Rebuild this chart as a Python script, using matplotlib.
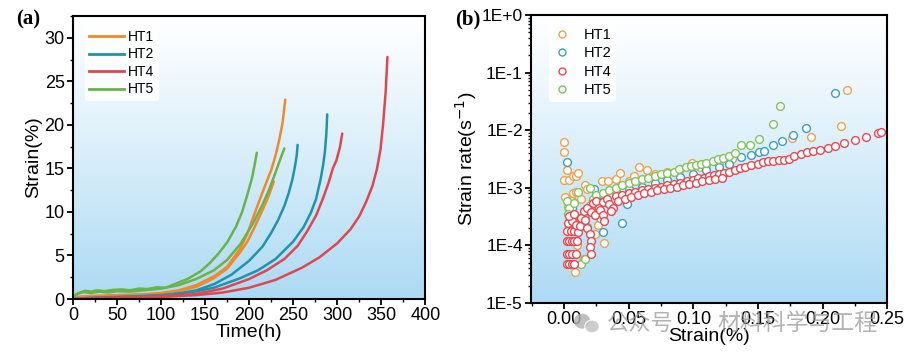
import numpy as np
import matplotlib
matplotlib.use("Agg")
import matplotlib.pyplot as plt
from matplotlib.ticker import MultipleLocator, FixedLocator, LogLocator, NullFormatter, FuncFormatter
from matplotlib.lines import Line2D
from matplotlib.patches import Ellipse

plt.rcParams['font.family'] = ['Liberation Sans', 'DejaVu Sans']

# ---------------- Panel (a) data: creep curves ----------------
ht1a_t = [0, 5, 20, 50, 80, 100, 120, 140, 160, 175, 190, 198, 205, 212, 218, 225, 230, 234, 238, 241]
ht1a_s = [0, 0.2, 0.3, 0.4, 0.5, 0.7, 1.0, 1.6, 2.6, 3.7, 5.8, 7.5, 9.5, 11.4, 13.0, 14.8, 16.5, 18.2, 20.3, 22.9]
ht1b_t = [0, 5, 20, 50, 80, 100, 120, 140, 160, 175, 190, 198, 205, 211, 216, 222, 228]
ht1b_s = [0, 0.25, 0.35, 0.45, 0.55, 0.65, 0.9, 1.4, 2.4, 3.5, 5.4, 6.6, 8.0, 9.3, 10.4, 11.8, 13.5]
ht2a_t = [0, 20, 50, 80, 100, 120, 140, 160, 180, 200, 215, 225, 233, 240, 245, 249, 252, 254, 255]
ht2a_s = [0, 0.15, 0.25, 0.35, 0.45, 0.65, 1.0, 1.7, 2.8, 4.4, 6.0, 7.6, 9.1, 10.7, 12.2, 13.7, 15.2, 16.5, 17.7]
ht2b_t = [0, 20, 50, 80, 100, 130, 160, 190, 210, 230, 250, 262, 270, 276, 281, 284, 286, 287.6, 288.6]
ht2b_s = [0, 0.1, 0.2, 0.3, 0.4, 0.7, 1.3, 2.4, 3.3, 4.6, 6.6, 8.3, 9.9, 11.5, 13.7, 15.4, 16.9, 18.9, 21.2]
ht4a_t = [0, 20, 50, 80, 110, 140, 170, 200, 220, 240, 255, 266, 276, 284, 290, 295, 299, 303, 305.7]
ht4a_s = [0, 0.1, 0.15, 0.2, 0.35, 0.6, 1.2, 2.3, 3.3, 4.6, 6.1, 7.8, 9.6, 11.6, 13.3, 15.0, 15.9, 17.4, 19.0]
ht4b_t = [0, 30, 60, 100, 140, 170, 200, 230, 260, 280, 300, 315, 325, 333, 340, 345, 349, 352, 355, 357]
ht4b_s = [0, 0.1, 0.15, 0.25, 0.45, 0.75, 1.3, 2.2, 3.6, 4.8, 6.4, 8.0, 9.5, 11.2, 13.0, 14.9, 17.1, 20.0, 23.8, 27.8]
ht5a_t = [0, 3, 8, 14, 20, 28, 36, 45, 55, 65, 75, 85, 95, 105, 115, 130, 145, 155, 165, 175, 185, 192, 198, 203, 206, 208.7]
ht5a_s = [0, 0.5, 0.75, 0.95, 0.85, 1.0, 0.9, 1.05, 1.1, 1.0, 1.2, 1.15, 1.35, 1.3, 1.7, 2.3, 3.2, 4.1, 5.2, 6.5, 8.3, 10.0, 12.0, 13.8, 15.3, 16.8]
ht5b_t = [0, 5, 12, 20, 30, 40, 50, 65, 80, 100, 120, 140, 160, 175, 190, 205, 215, 222, 228, 233, 237, 240]
ht5b_s = [0, 0.6, 0.8, 0.7, 0.85, 0.75, 0.9, 0.85, 1.0, 1.2, 1.6, 2.3, 3.3, 4.5, 6.3, 8.8, 10.8, 12.4, 14.0, 15.4, 16.5, 17.3]

# ---------------- Panel (b) data: strain rate vs strain ----------------
b_ht1_x = [0.0, 0.0, 0.002, 0.0, 0.004, 0.007, 0.009, 0.011, 0.001, 0.004, 0.006, 0.007, 0.009, 0.003,
           0.016, 0.018, 0.013, 0.020, 0.024, 0.026, 0.024, 0.031, 0.0085, 0.015, 0.029, 0.034, 0.040,
           0.043, 0.050, 0.054, 0.058, 0.064, 0.070, 0.080, 0.090, 0.099, 0.105, 0.110, 0.120, 0.130,
           0.176, 0.191, 0.214, 0.219, 0.010, 0.012]
b_ht1_y = [6.3e-3, 4.1e-3, 2.0e-3, 1.35e-3, 1.35e-3, 1.6e-3, 1.6e-3, 1.8e-3, 6.8e-4, 5.0e-4, 6.0e-4, 8.0e-4,
           8.5e-4, 4.6e-4, 1.1e-3, 9.5e-4, 6.5e-4, 5.0e-4, 3.5e-4, 2.3e-4, 1.6e-4, 1.1e-4, 3.4e-5, 5.7e-5,
           1.3e-3, 1.3e-3, 1.4e-3, 1.8e-3, 1.3e-3, 1.6e-3, 2.3e-3, 2.0e-3, 1.7e-3, 1.9e-3, 2.1e-3, 2.7e-3,
           2.3e-3, 2.5e-3, 2.8e-3, 3.1e-3, 7.2e-3, 7.7e-3, 1.2e-2, 5.0e-2, 1.0e-4, 3.0e-4]
b_ht2_x = [0.0026, 0.004, 0.006, 0.023, 0.030, 0.045, 0.049, 0.028, 0.030, 0.040, 0.050, 0.060, 0.070,
           0.080, 0.090, 0.100, 0.110, 0.120, 0.128, 0.137, 0.145, 0.151, 0.155, 0.162, 0.169, 0.177,
           0.187, 0.210]
b_ht2_y = [2.8e-3, 1.9e-4, 4.5e-4, 9.5e-4, 1.7e-4, 2.4e-4, 5.3e-4, 3.3e-4, 7.5e-4, 8.5e-4, 9.5e-4, 1.05e-3,
           1.2e-3, 1.35e-3, 1.55e-3, 1.75e-3, 2.0e-3, 2.3e-3, 2.6e-3, 3.4e-3, 3.7e-3, 4.1e-3, 4.3e-3, 5.5e-3,
           6.4e-3, 8.2e-3, 1.1e-2, 4.4e-2]
b_ht4_x = [0.002, 0.004, 0.006, 0.008, 0.002, 0.004, 0.006, 0.009, 0.002, 0.004, 0.006, 0.008, 0.010,
           0.002, 0.005, 0.008, 0.011, 0.003, 0.006, 0.009, 0.012, 0.004, 0.008, 0.013, 0.016, 0.018,
           0.020, 0.021, 0.020, 0.021, 0.015, 0.018, 0.021, 0.024, 0.026, 0.028, 0.030, 0.031, 0.022,
           0.025, 0.030, 0.033, 0.035, 0.038, 0.036,
           0.040, 0.045, 0.050, 0.055, 0.060, 0.065, 0.070, 0.075, 0.080, 0.085, 0.090, 0.095, 0.100,
           0.104, 0.108, 0.112, 0.116, 0.120, 0.124, 0.128, 0.132, 0.136, 0.140, 0.145, 0.150, 0.154,
           0.158, 0.162, 0.166, 0.170, 0.174, 0.178, 0.183, 0.188, 0.193, 0.198, 0.204, 0.210, 0.217,
           0.225, 0.234, 0.243, 0.245,
           0.042, 0.047, 0.052, 0.057, 0.062, 0.067, 0.072, 0.077, 0.082, 0.087, 0.092, 0.097, 0.102,
           0.107, 0.112, 0.117, 0.122]
b_ht4_y = [4.8e-5, 4.8e-5, 4.8e-5, 4.8e-5, 7.2e-5, 7.2e-5, 7.2e-5, 7.2e-5, 1.2e-4, 1.2e-4, 1.2e-4, 1.2e-4,
           1.2e-4, 1.8e-4, 1.8e-4, 1.8e-4, 1.7e-4, 2.4e-4, 2.6e-4, 2.3e-4, 2.2e-4, 3.2e-4, 3.5e-4, 3.0e-4,
           2.8e-4, 2.0e-4, 1.6e-4, 1.2e-4, 9.5e-5, 7.2e-5, 4.0e-4, 4.5e-4, 3.8e-4, 3.3e-4, 4.8e-4, 4.1e-4,
           3.4e-4, 2.7e-4, 5.5e-4, 6.0e-4, 5.6e-4, 6.5e-4, 5.2e-4, 4.5e-4, 3.9e-4,
           7.2e-4, 7.6e-4, 8.0e-4, 8.6e-4, 9.0e-4, 9.5e-4, 1.0e-3, 1.05e-3, 1.1e-3, 1.15e-3, 1.2e-3,
           1.3e-3, 1.35e-3, 1.45e-3, 1.5e-3, 1.6e-3, 1.65e-3, 1.75e-3, 1.8e-3, 1.9e-3, 2.05e-3, 2.2e-3,
           2.3e-3, 2.45e-3, 2.6e-3, 2.8e-3, 2.9e-3, 2.95e-3, 3.0e-3, 3.05e-3, 3.1e-3, 3.5e-3, 3.9e-3,
           4.1e-3, 4.3e-3, 4.6e-3, 4.9e-3, 5.4e-3, 6.0e-3, 6.7e-3, 7.6e-3, 8.8e-3, 9.3e-3,
           5.8e-4, 6.4e-4, 7.0e-4, 7.5e-4, 8.0e-4, 8.6e-4, 9.0e-4, 9.5e-4, 1.0e-3, 1.05e-3, 1.1e-3,
           1.15e-3, 1.2e-3, 1.3e-3, 1.35e-3, 1.4e-3, 1.5e-3]
b_ht5_x = [0.002, 0.004, 0.003, 0.006, 0.008, 0.011, 0.013, 0.016, 0.018, 0.016, 0.020, 0.022, 0.028,
           0.025, 0.030, 0.035, 0.040, 0.045, 0.050, 0.055, 0.060, 0.065, 0.070, 0.075, 0.080, 0.085,
           0.089, 0.094, 0.098, 0.102, 0.106, 0.110, 0.115, 0.119, 0.123, 0.128, 0.132, 0.137, 0.144,
           0.151, 0.162, 0.167]
b_ht5_y = [6.0e-4, 4.5e-4, 3.5e-4, 2.6e-4, 5.5e-4, 8.5e-4, 4.8e-5, 5.7e-5, 2.1e-4, 3.0e-4, 1.0e-3, 6.5e-4,
           3.0e-4, 7.5e-4, 8.2e-4, 9.0e-4, 1.0e-3, 1.1e-3, 1.2e-3, 1.3e-3, 1.4e-3, 1.5e-3, 1.6e-3, 1.7e-3,
           1.8e-3, 1.9e-3, 2.15e-3, 2.3e-3, 2.4e-3, 2.5e-3, 2.6e-3, 2.7e-3, 2.9e-3, 3.1e-3, 3.3e-3, 3.6e-3,
           4.0e-3, 5.5e-3, 5.5e-3, 6.9e-3, 1.26e-2, 2.6e-2]

labels = ['HT1', 'HT2', 'HT4', 'HT5']
c_line = {'HT1': '#f0892a', 'HT2': '#1e93ad', 'HT4': '#e0464e', 'HT5': '#6ab24a'}
c_mark = {'HT1': '#f0a050', 'HT2': '#3a9fbe', 'HT4': '#e84850', 'HT5': '#80c45a'}

fig = plt.figure(figsize=(9.08, 3.56), dpi=100)
ax1 = fig.add_axes([0.0804, 0.160, 0.388, 0.795])
ax2 = fig.add_axes([0.585, 0.149, 0.392, 0.809])

# gradient background
grad = np.linspace(0, 1, 256).reshape(-1, 1)
top = np.array([1.0, 1.0, 1.0])
bot = np.array([172, 218, 244]) / 255.0
g = grad ** 1.1
img = (top[None, None, :] * (1 - g[:, :, None]) + bot[None, None, :] * g[:, :, None])
for ax in (ax1, ax2):
    ax.imshow(img, extent=[0, 1, 0, 1], transform=ax.transAxes, aspect='auto', zorder=0,
              origin='upper', interpolation='bicubic')

# ---- panel a ----
curves = [('HT1', ht1b_t, ht1b_s), ('HT1', ht1a_t, ht1a_s),
          ('HT2', ht2a_t, ht2a_s), ('HT2', ht2b_t, ht2b_s),
          ('HT4', ht4a_t, ht4a_s), ('HT4', ht4b_t, ht4b_s),
          ('HT5', ht5a_t, ht5a_s), ('HT5', ht5b_t, ht5b_s)]
for lab, t, s in curves:
    ax1.plot(t, s, color=c_line[lab], lw=1.8, zorder=3, solid_capstyle='round', solid_joinstyle='round')
ax1.set_xlim(0, 400)
ax1.set_ylim(0, 32.5)
ax1.xaxis.set_major_locator(MultipleLocator(50))
ax1.xaxis.set_minor_locator(MultipleLocator(25))
ax1.yaxis.set_major_locator(FixedLocator([0, 5, 10, 15, 20, 25, 30]))
ax1.yaxis.set_minor_locator(MultipleLocator(2.5))
ax1.set_xlabel('Time(h)', fontsize=14, labelpad=0)
ax1.set_ylabel('Strain(%)', fontsize=14, labelpad=2)
handles_a = [Line2D([], [], color=c_line[l], lw=2) for l in labels]
leg1 = ax1.legend(handles_a, labels, loc='upper left', bbox_to_anchor=(0.015, 0.99), fontsize=10,
                  frameon=True, facecolor='white', edgecolor='none', framealpha=0.85,
                  handlelength=2.5, handletextpad=0.3, labelspacing=0.25, borderpad=0.3)

# ---- panel b ----
series_b = [('HT1', b_ht1_x, b_ht1_y, 2), ('HT2', b_ht2_x, b_ht2_y, 3),
            ('HT4', b_ht4_x, b_ht4_y, 5), ('HT5', b_ht5_x, b_ht5_y, 4)]
for lab, x, y, z in series_b:
    ax2.plot(x, y, ls='none', marker='o', ms=5.6, mew=1.0, mec=c_mark[lab], mfc='white',
             zorder=z, clip_on=False)
ax2.set_yscale('log')
ax2.set_xlim(-0.0255, 0.25)
ax2.set_ylim(1e-5, 1)
ax2.xaxis.set_major_locator(MultipleLocator(0.05))
ax2.xaxis.set_minor_locator(MultipleLocator(0.025))
ax2.xaxis.set_major_formatter(FuncFormatter(lambda v, p: f'{v:.2f}'))
ax2.yaxis.set_major_locator(LogLocator(base=10, numticks=10))
ax2.yaxis.set_minor_locator(LogLocator(base=10, subs=np.arange(2, 10), numticks=20))
ax2.yaxis.set_minor_formatter(NullFormatter())

def efmt(v, p):
    e = int(round(np.log10(v)))
    return '1E+0' if e == 0 else f'1E{e}'
ax2.yaxis.set_major_formatter(FuncFormatter(efmt))
ax2.set_xlabel('Strain(%)', fontsize=14, labelpad=0)
ax2.set_ylabel('Strain rate(s$^{-1}$)', fontsize=14, labelpad=2)
handles_b = [Line2D([], [], ls='none', marker='o', ms=5, mew=1.0, mec=c_mark[l], mfc='white') for l in labels]
leg2 = ax2.legend(handles_b, labels, loc='upper left', bbox_to_anchor=(0.03, 0.995), fontsize=10.5,
                  frameon=True, facecolor='white', edgecolor='none', framealpha=0.85,
                  handlelength=1.2, handletextpad=0.9, labelspacing=0.3, borderpad=0.3)

for ax in (ax1, ax2):
    for sp in ax.spines.values():
        sp.set_linewidth(1.5)
        sp.set_zorder(10)
    ax.tick_params(which='major', direction='out', length=4, width=1.3, labelsize=13, pad=2,
                   top=False, right=False)
    ax.tick_params(which='minor', direction='out', length=2.5, width=1.0, top=False, right=False)
ax2.tick_params(axis='y', which='major', labelsize=12.5)

fig.text(0.018, 0.945, '(a)', fontsize=15, fontweight='bold', family='Liberation Serif', va='center')
fig.text(0.501, 0.945, '(b)', fontsize=15, fontweight='bold', family='Liberation Serif', va='center')

# watermark (icon + text)
fig.patches.append(Ellipse((0.641, 0.098), 0.018, 0.042, transform=fig.transFigure,
                           facecolor='#b0b0b0', edgecolor='none', alpha=0.8, zorder=20))
fig.patches.append(Ellipse((0.652, 0.083), 0.016, 0.036, transform=fig.transFigure,
                           facecolor='#c8c8c8', edgecolor='white', lw=0.8, alpha=0.9, zorder=21))
fig.text(0.668, 0.092, '公众号', fontsize=16, color='#9a9a9a', alpha=0.75,
         family=['Noto Sans CJK SC', 'DejaVu Sans'], va='center', zorder=22)
fig.text(0.790, 0.092, '材料科学与工程', fontsize=16.5, color='#9a9a9a', alpha=0.75,
         family=['Noto Sans CJK SC', 'DejaVu Sans'], va='center', zorder=22)

fig.savefig('out.png', dpi=100)
